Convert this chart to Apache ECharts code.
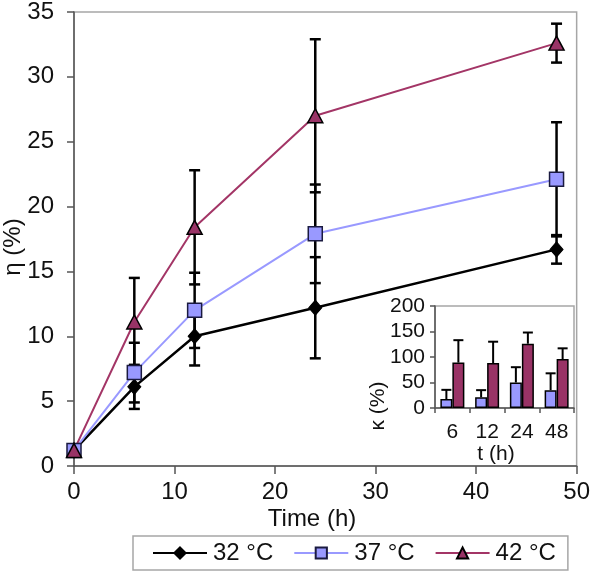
<!DOCTYPE html>
<html>
<head>
<meta charset="utf-8">
<script src="https://cdn.jsdelivr.net/npm/echarts@6/dist/echarts.min.js"></script>
<style>html,body{margin:0;padding:0;background:#fff;}#c{width:593px;height:573px;}</style>
</head>
<body>
<div id="c"></div>
<script>
// Main chart data
const timeH = [0, 6, 12, 24, 48];
const eta32 = [1.2, 6.1, 10.0, 12.2, 16.7];
const err32 = [0, 1.7, 2.25, 3.9, 1.1];
const eta37 = [1.2, 7.2, 12.0, 17.9, 22.1];
const err37 = [0, 2.3, 2.9, 3.8, 4.4];
const eta42 = [1.2, 11.1, 18.4, 27.0, 32.6];
const err42 = [0, 3.4, 4.4, 5.9, 1.5];
const seriesNames = ['32 °C', '37 °C', '42 °C'];
const xTicks = [0, 10, 20, 30, 40, 50];
const yTicks = [0, 5, 10, 15, 20, 25, 30, 35];

// Inset data
const insetT = ['6', '12', '24', '48'];
const kappa37 = [17.6, 21, 50, 35];
const kappa37Err = [18, 14, 30, 33];
const kappa42 = [89, 88, 126, 96];
const kappa42Err = [44, 42, 22, 21];
const insetYTicks = [0, 50, 100, 150, 200];

const FONT = '"Liberation Sans", Arial, sans-serif';
const chart = echarts.init(document.getElementById('c'), null, {renderer: 'canvas'});

function pts(ys, es) { return timeH.map((t, i) => [t, ys[i], es[i]]); }

function errMain(params, api) {
  const x = api.value(0), y = api.value(1), e = api.value(2);
  if (!e) return null;
  const hi = api.coord([x, y + e]);
  const lo = api.coord([x, y - e]);
  const st = {stroke: '#000', lineWidth: 2.5};
  const cw = 5.5;
  return {type: 'group', children: [
    {type: 'line', shape: {x1: hi[0], y1: hi[1], x2: lo[0], y2: lo[1]}, style: st},
    {type: 'line', shape: {x1: hi[0] - cw, y1: hi[1], x2: hi[0] + cw, y2: hi[1]}, style: st},
    {type: 'line', shape: {x1: lo[0] - cw, y1: lo[1], x2: lo[0] + cw, y2: lo[1]}, style: st}
  ]};
}

function errInset(offset) {
  return function (params, api) {
    const c = api.value(0), y = api.value(1), e = api.value(2);
    const base = api.coord([c, y]);
    const hi = api.coord([c, y + e]);
    const x = base[0] + offset;
    const st = {stroke: '#000', lineWidth: 2};
    const cw = 5;
    return {type: 'group', children: [
      {type: 'line', shape: {x1: x, y1: base[1], x2: x, y2: hi[1]}, style: st},
      {type: 'line', shape: {x1: x - cw, y1: hi[1], x2: x + cw, y2: hi[1]}, style: st}
    ]};
  };
}

const option = {
  animation: false,
  textStyle: {fontFamily: FONT},
  grid: [
    {left: 74, right: 14, top: 11, bottom: 107, show: true, borderColor: '#a6a6a6', borderWidth: 1.5, backgroundColor: '#fff', z: 0},
    {left: 435, right: 19, top: 306, height: 102, show: true, borderColor: '#a6a6a6', borderWidth: 1.5, backgroundColor: '#fff', z: 5}
  ],
  xAxis: [
    {type: 'value', gridIndex: 0, min: xTicks[0], max: xTicks[xTicks.length - 1], interval: 10,
     axisLine: {show: true, lineStyle: {color: '#555', width: 1.5}},
     axisTick: {show: true, length: 8, lineStyle: {color: '#555', width: 1.5}},
     axisLabel: {fontSize: 24, color: '#111', margin: 14, fontFamily: FONT},
     splitLine: {show: false}},
    {type: 'category', gridIndex: 1, data: insetT, z: 6,
     axisLine: {show: true, lineStyle: {color: '#555', width: 1.5}},
     axisTick: {show: true, length: 5, alignWithLabel: false, lineStyle: {color: '#555', width: 1.5}},
     axisLabel: {fontSize: 21, color: '#111', margin: 14, fontFamily: FONT},
     splitLine: {show: false}}
  ],
  yAxis: [
    {type: 'value', gridIndex: 0, min: yTicks[0], max: yTicks[yTicks.length - 1], interval: 5,
     axisLine: {show: true, lineStyle: {color: '#555', width: 1.5}},
     axisTick: {show: true, length: 7, lineStyle: {color: '#555', width: 1.5}},
     axisLabel: {fontSize: 24, color: '#111', margin: 20, fontFamily: FONT},
     splitLine: {show: false}},
    {type: 'value', gridIndex: 1, min: insetYTicks[0], max: insetYTicks[insetYTicks.length - 1], interval: 50, z: 6,
     axisLine: {show: true, lineStyle: {color: '#555', width: 1.5}},
     axisTick: {show: true, length: 5, lineStyle: {color: '#555', width: 1.5}},
     axisLabel: {fontSize: 21, color: '#111', margin: 10, fontFamily: FONT},
     splitLine: {show: false}}
  ],
  legend: {
    left: 133, top: 536,
    data: seriesNames,
    orient: 'horizontal',
    itemWidth: 54, itemHeight: 14, itemGap: 20,
    padding: [5, 12, 5, 19],
    borderColor: '#a6a6a6', borderWidth: 1.5,
    textStyle: {fontSize: 24, color: '#111', fontFamily: FONT, padding: [0, 0, 0, 1]}
  },
  graphic: [
    {type: 'text', x: 13, y: 247, rotation: Math.PI / 2,
     style: {text: 'η (%)', font: '24px ' + FONT, fill: '#111', textAlign: 'center', textVerticalAlign: 'middle'}},
    {type: 'text', x: 312, y: 519,
     style: {text: 'Time (h)', font: '24px ' + FONT, fill: '#111', textAlign: 'center', textVerticalAlign: 'middle'}},
    {type: 'text', x: 496, y: 454, z: 10,
     style: {text: 't (h)', font: '21px ' + FONT, fill: '#111', textAlign: 'center', textVerticalAlign: 'middle'}},
    {type: 'text', x: 378, y: 406, rotation: Math.PI / 2, z: 10,
     style: {text: 'κ (%)', font: '21px ' + FONT, fill: '#111', textAlign: 'center', textVerticalAlign: 'middle'}}
  ],
  series: [
    {type: 'custom', xAxisIndex: 0, yAxisIndex: 0, z: 2, renderItem: errMain, data: pts(eta32, err32), silent: true},
    {type: 'custom', xAxisIndex: 0, yAxisIndex: 0, z: 2, renderItem: errMain, data: pts(eta37, err37), silent: true},
    {type: 'custom', xAxisIndex: 0, yAxisIndex: 0, z: 2, renderItem: errMain, data: pts(eta42, err42), silent: true},
    {name: seriesNames[0], type: 'line', xAxisIndex: 0, yAxisIndex: 0, z: 3,
     data: timeH.map((t, i) => [t, eta32[i]]),
     symbol: 'diamond', symbolSize: [13, 15],
     lineStyle: {color: '#000', width: 2.5},
     itemStyle: {color: '#000', borderColor: '#000', borderWidth: 1}},
    {name: seriesNames[1], type: 'line', xAxisIndex: 0, yAxisIndex: 0, z: 3,
     data: timeH.map((t, i) => [t, eta37[i]]),
     symbol: 'rect', symbolSize: 14,
     lineStyle: {color: '#9999FF', width: 2},
     itemStyle: {color: '#9999FF', borderColor: '#1a1a40', borderWidth: 1.5}},
    {name: seriesNames[2], type: 'line', xAxisIndex: 0, yAxisIndex: 0, z: 3,
     data: timeH.map((t, i) => [t, eta42[i]]),
     symbol: 'triangle', symbolSize: [15, 14],
     lineStyle: {color: '#A33566', width: 2},
     itemStyle: {color: '#993366', borderColor: '#000', borderWidth: 1.5}},
    {name: 'κ37', type: 'bar', xAxisIndex: 1, yAxisIndex: 1, z: 7, data: kappa37,
     barWidth: 12, barGap: '0%',
     itemStyle: {color: '#9999FF', borderColor: '#000', borderWidth: 1.5}},
    {name: 'κ42', type: 'bar', xAxisIndex: 1, yAxisIndex: 1, z: 7, data: kappa42,
     barWidth: 12, barGap: '0%',
     itemStyle: {color: '#993366', borderColor: '#000', borderWidth: 1.5}},
    {type: 'custom', xAxisIndex: 1, yAxisIndex: 1, z: 8, renderItem: errInset(-6), silent: true,
     data: insetT.map((c, i) => [i, kappa37[i], kappa37Err[i]])},
    {type: 'custom', xAxisIndex: 1, yAxisIndex: 1, z: 8, renderItem: errInset(6), silent: true,
     data: insetT.map((c, i) => [i, kappa42[i], kappa42Err[i]])}
  ]
};
chart.setOption(option);
</script>
</body>
</html>
